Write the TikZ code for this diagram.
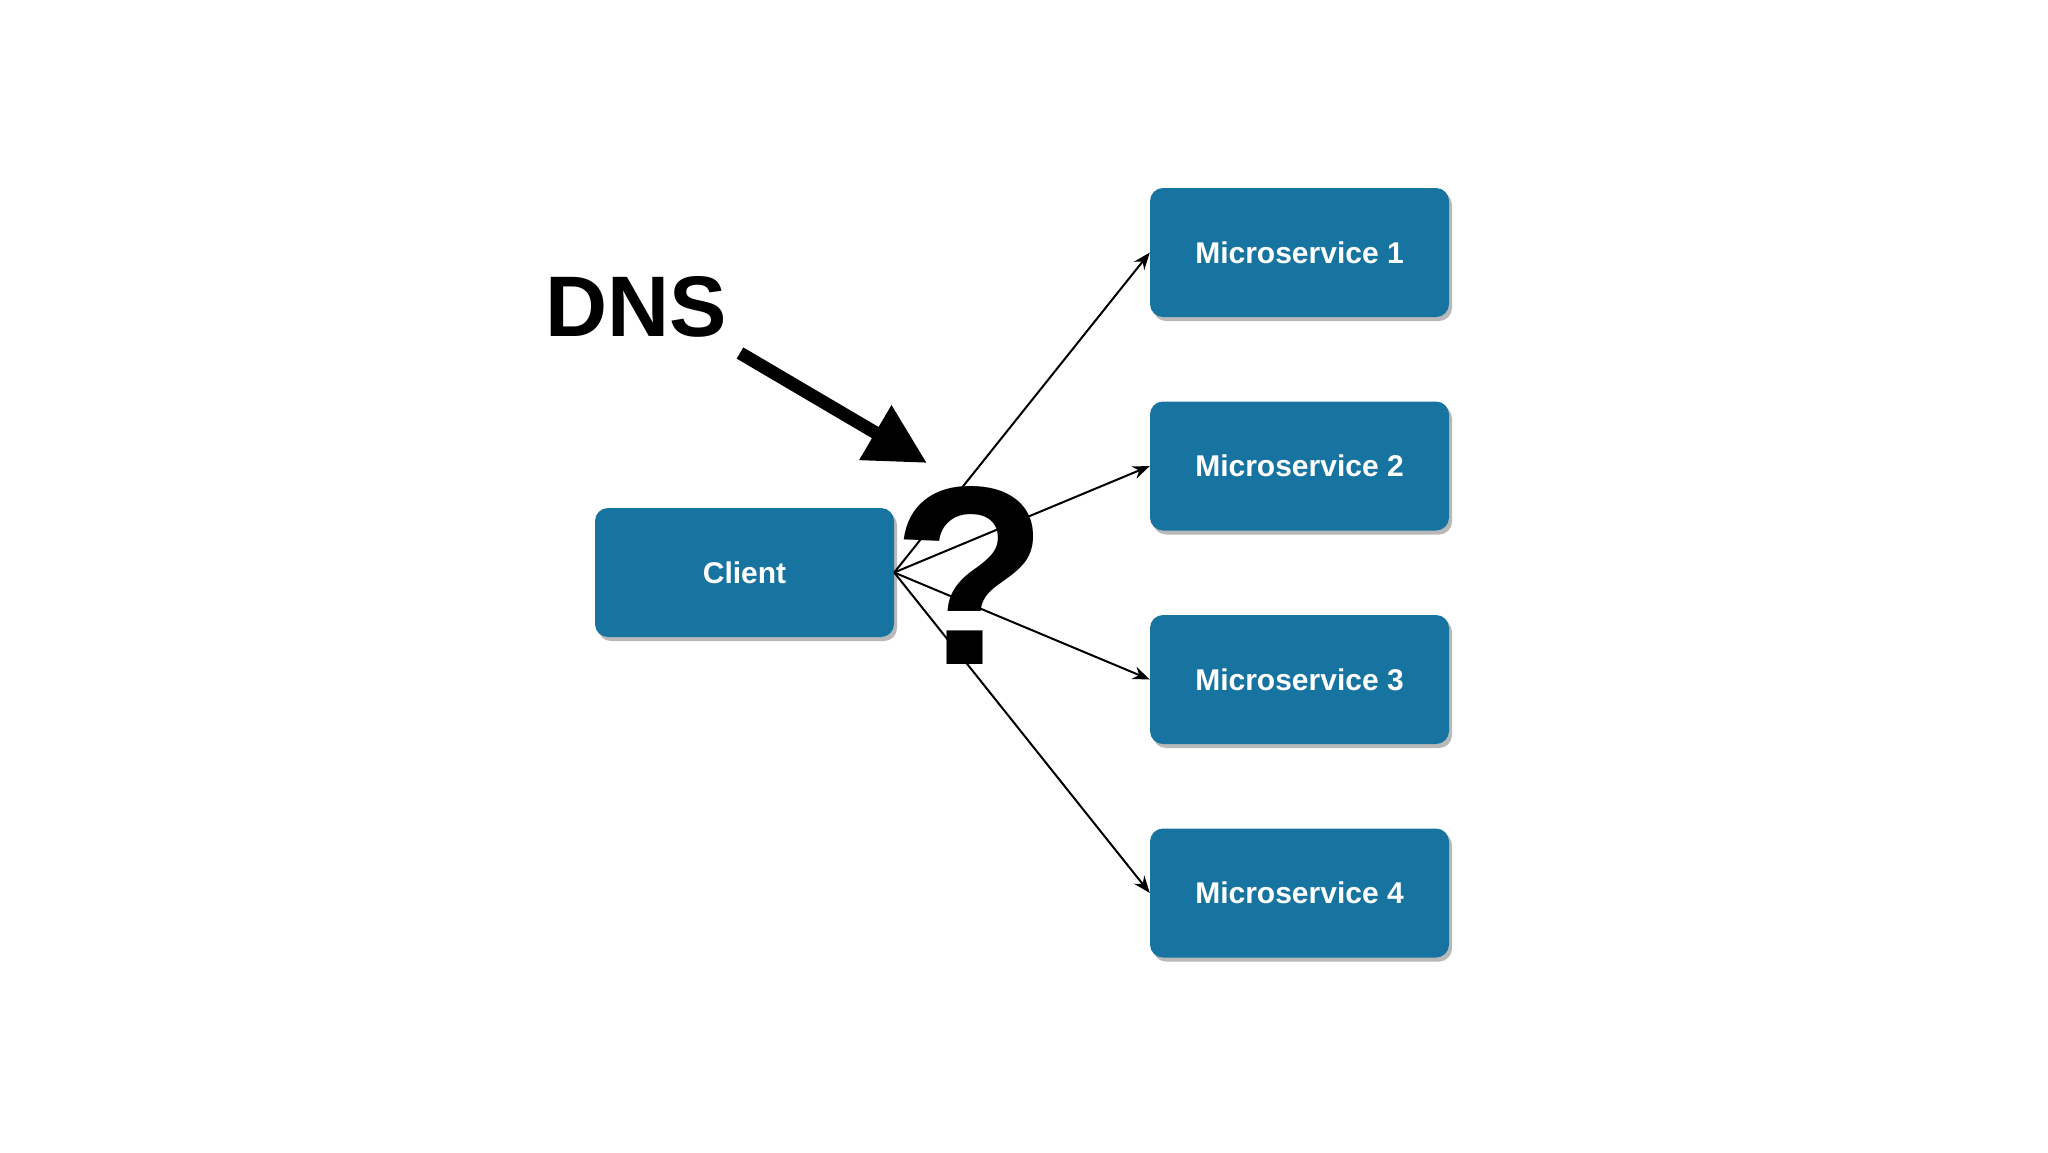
\documentclass[tikz,border=0pt]{standalone}
\usepackage{fontspec}
\setmainfont{Liberation Sans}
\usetikzlibrary{arrows.meta,shadows}
\definecolor{boxblue}{RGB}{23,116,160}
\definecolor{shadowgray}{RGB}{185,185,185}
\tikzset{
  svcbox/.style={draw=none, fill=boxblue, rounded corners=13pt, minimum width=299pt, minimum height=129pt,
    inner sep=0pt, text=white, font=\fontsize{30}{30}\selectfont\bfseries,
    drop shadow={shadow xshift=3pt, shadow yshift=-4pt, fill=shadowgray, opacity=1}},
  link/.style={line width=2pt, -{Stealth[length=17pt,width=13pt]}},
  bigarrow/.style={line width=13pt, -{Triangle[length=60pt,width=60pt]}}
}
\begin{document}
\begin{tikzpicture}[x=1pt,y=-1pt]
\useasboundingbox[fill=white] (0,0) rectangle (2048,1152);
\node[svcbox] (client) at (744.5,572.5) {Client};
\node[svcbox] (ms1) at (1299.5,252.5) {Microservice 1};
\node[svcbox] (ms2) at (1299.5,466) {Microservice 2};
\node[svcbox] (ms3) at (1299.5,679.5) {Microservice 3};
\node[svcbox] (ms4) at (1299.5,893) {Microservice 4};
\node[inner sep=0pt, font=\fontsize{255}{255}\selectfont\bfseries] (qm) at (970,575) {?};
\node[inner sep=0pt, font=\fontsize{86}{86}\selectfont\bfseries] (dns) at (636,306.5) {DNS};
\foreach \m in {ms1,ms2,ms3,ms4}
  \draw[link] (client.east) -- (\m.west);
\coordinate (dnsfrom) at (740,353);
\coordinate (dnsto) at (927,463);
\draw[bigarrow] (dnsfrom) -- (dnsto);
\end{tikzpicture}
\end{document}
